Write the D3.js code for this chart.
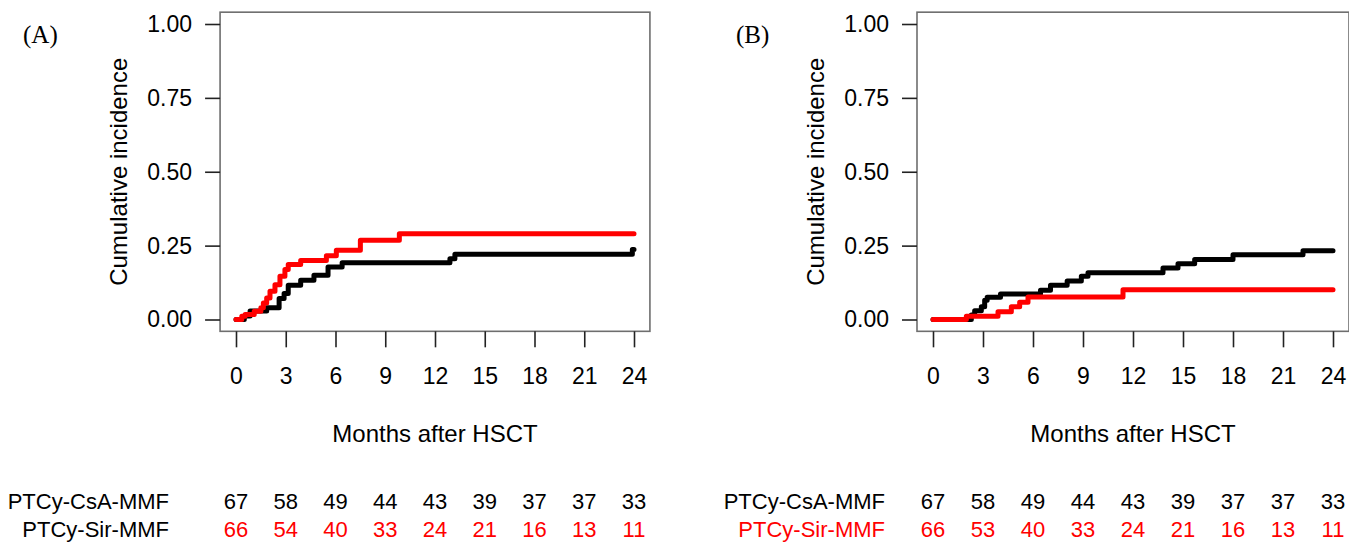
<!DOCTYPE html>
<html>
<head>
<meta charset="utf-8">
<script src="https://cdn.jsdelivr.net/npm/d3@7"></script>
<style>
  body { margin: 0; background: #fff; }
  svg { display: block; font-family: "Liberation Sans", Arial, sans-serif; }
</style>
</head>
<body>
<div id="chart"></div>
<script>
// x ticks (months) and y ticks
const monthTicks = [0, 3, 6, 9, 12, 15, 18, 21, 24];
const incidenceTicks = [0, 0.25, 0.5, 0.75, 1];
const groupNames = ['PTCy-CsA-MMF', 'PTCy-Sir-MMF'];

// numbers at risk, per panel
const atRiskA_CsA = [67, 58, 49, 44, 43, 39, 37, 37, 33];
const atRiskA_Sir = [66, 54, 40, 33, 24, 21, 16, 13, 11];
const atRiskB_CsA = [67, 58, 49, 44, 43, 39, 37, 37, 33];
const atRiskB_Sir = [66, 53, 40, 33, 24, 21, 16, 13, 11];

// step curves: [month, cumulative incidence]
const curveA_CsA = [
  [0, 0], [0.5, 0.012], [0.85, 0.029], [1.85, 0.04], [2.6, 0.071], [2.9, 0.088],
  [3.15, 0.116], [3.9, 0.133], [4.7, 0.15], [5.55, 0.178], [6.4, 0.192],
  [12.9, 0.206], [13.2, 0.221], [23.9, 0.237], [24, 0.237],
];
const curveA_Sir = [
  [0, 0], [0.35, 0.011], [0.55, 0.017], [1.1, 0.028], [1.5, 0.04], [1.65, 0.056],
  [1.85, 0.073], [2.05, 0.096], [2.35, 0.118], [2.65, 0.146], [2.95, 0.169],
  [3.15, 0.186], [3.9, 0.2], [5.45, 0.216], [6.05, 0.234], [7.5, 0.268],
  [9.85, 0.29], [24, 0.29],
];
const curveB_CsA = [
  [0, 0], [2.3, 0.015], [2.5, 0.03], [2.9, 0.043], [3.1, 0.065], [3.25, 0.075],
  [4.05, 0.086], [6.45, 0.099], [7.05, 0.116], [8.05, 0.13], [8.9, 0.146],
  [9.3, 0.158], [13.8, 0.174], [14.7, 0.189], [15.7, 0.203], [18.0, 0.219],
  [22.2, 0.233], [24, 0.233],
];
const curveB_Sir = [
  [0, 0], [2.0, 0.011], [3.9, 0.026], [4.7, 0.043], [5.2, 0.058], [5.7, 0.076],
  [11.4, 0.101], [24, 0.101],
];

const W = 1349;
const H = 543;
const RED = '#ff0000';

const panels = [
  {
    tag: '(A)', tagX: 23, x0: 236, x1: 634, labelRight: 169,
    curves: [curveA_CsA, curveA_Sir], atRisk: [atRiskA_CsA, atRiskA_Sir],
    labelColors: ['#000', '#000'],
  },
  {
    tag: '(B)', tagX: 736, x0: 933, x1: 1333, labelRight: 885,
    curves: [curveB_CsA, curveB_Sir], atRisk: [atRiskB_CsA, atRiskB_Sir],
    labelColors: ['#000', RED],
  },
];
const curveColors = ['#000', RED];

const svg = d3.select('#chart').append('svg')
  .attr('width', W)
  .attr('height', H);

panels.forEach((p) => {
  const x = d3.scaleLinear().domain([0, 24]).range([p.x0, p.x1]);
  const y = d3.scaleLinear().domain([0, 1]).range([319.5, 24]);
  const g = svg.append('g');

  // box, extended 4% like R
  const padX = (p.x1 - p.x0) * 0.04;
  const padY = (319.5 - 24) * 0.04;
  const bx0 = p.x0 - padX;
  const bx1 = p.x1 + padX;
  const by0 = 24 - padY;
  const by1 = 319.5 + padY;
  g.append('rect')
    .attr('x', bx0).attr('y', by0)
    .attr('width', bx1 - bx0).attr('height', by1 - by0)
    .attr('fill', 'none')
    .attr('stroke', '#6e6e6e')
    .attr('stroke-width', 1.6);

  // x axis
  const xAxis = g.append('g')
    .attr('transform', `translate(0,${by1})`)
    .call(d3.axisBottom(x).tickValues(monthTicks).tickSize(16).tickPadding(20));
  xAxis.select('.domain').remove();
  xAxis.selectAll('line').attr('stroke', '#222').attr('stroke-width', 1.6);
  xAxis.selectAll('text').attr('font-size', 23).attr('fill', '#000')
    .attr('font-family', '"Liberation Sans", Arial, sans-serif');

  // y axis
  const yAxis = g.append('g')
    .attr('transform', `translate(${bx0},0)`)
    .call(d3.axisLeft(y).tickValues(incidenceTicks).tickFormat(d3.format('.2f'))
      .tickSize(15).tickPadding(13));
  yAxis.select('.domain').remove();
  yAxis.selectAll('line').attr('stroke', '#222').attr('stroke-width', 1.6);
  yAxis.selectAll('text').attr('font-size', 23).attr('fill', '#000')
    .attr('font-family', '"Liberation Sans", Arial, sans-serif');

  // axis titles
  g.append('text')
    .attr('transform', `translate(${bx0 - 93},${(24 + 319.5) / 2}) rotate(-90)`)
    .attr('text-anchor', 'middle')
    .attr('font-size', 24)
    .text('Cumulative incidence');
  g.append('text')
    .attr('x', (bx0 + bx1) / 2)
    .attr('y', 442)
    .attr('text-anchor', 'middle')
    .attr('font-size', 24)
    .text('Months after HSCT');

  // panel tag
  g.append('text')
    .attr('x', p.tagX)
    .attr('y', 43)
    .attr('font-family', '"Liberation Serif", "Times New Roman", serif')
    .attr('font-size', 25)
    .text(p.tag);

  // curves
  const line = d3.line()
    .x(d => x(d[0]))
    .y(d => y(d[1]))
    .curve(d3.curveStepAfter);
  p.curves.forEach((c, i) => {
    g.append('path')
      .datum(c)
      .attr('d', line)
      .attr('fill', 'none')
      .attr('stroke', curveColors[i])
      .attr('stroke-width', 5)
      .attr('stroke-linejoin', 'round')
      .attr('stroke-linecap', 'round');
  });

  // numbers at risk table
  const rowY = [509, 537];
  p.atRisk.forEach((row, i) => {
    g.append('text')
      .attr('x', p.labelRight)
      .attr('y', rowY[i])
      .attr('text-anchor', 'end')
      .attr('font-size', 22)
      .attr('fill', p.labelColors[i])
      .text(groupNames[i]);
    g.selectAll(null)
      .data(row)
      .enter()
      .append('text')
      .attr('x', (d, j) => x(monthTicks[j]))
      .attr('y', rowY[i])
      .attr('text-anchor', 'middle')
      .attr('font-size', 22)
      .attr('fill', curveColors[i])
      .text(d => d);
  });
});
</script>
</body>
</html>
